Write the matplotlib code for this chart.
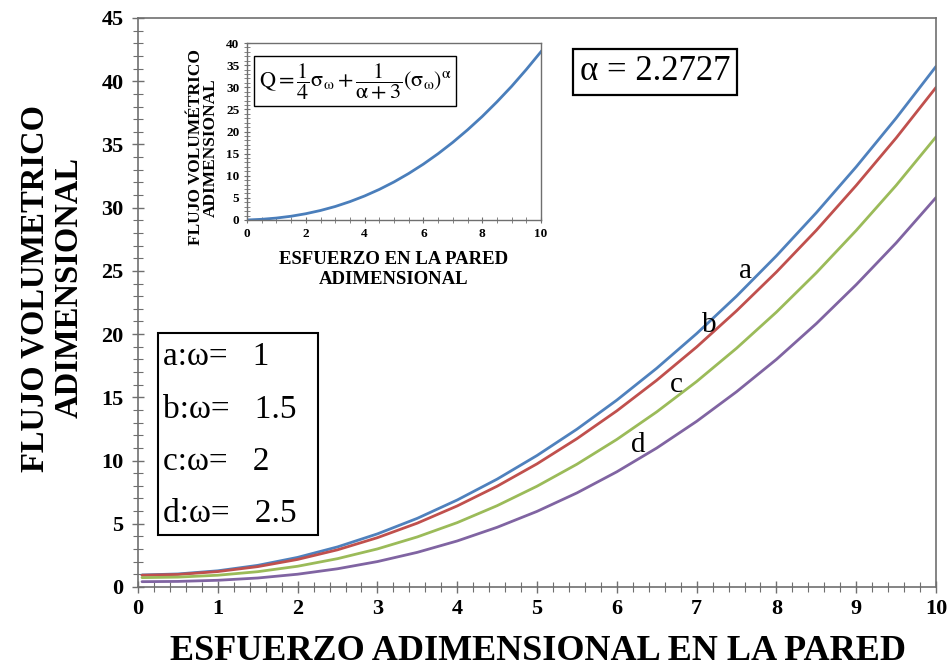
import matplotlib
matplotlib.use("Agg")
import matplotlib.pyplot as plt
from matplotlib.patches import Rectangle
from matplotlib.ticker import MultipleLocator

plt.rcParams['font.family'] = ['Liberation Serif', 'DejaVu Serif']
plt.rcParams['mathtext.fontset'] = 'stix'

# Dimensionless wall stress
sigma = [0.05, 0.5, 1.0, 1.5, 2.0, 2.5, 3.0, 3.5, 4.0, 4.5, 5.0,
         5.5, 6.0, 6.5, 7.0, 7.5, 8.0, 8.5, 9.0, 9.5, 10.0]

# Dimensionless volumetric flow for each slip parameter omega
q_a = [0.95, 1.03, 1.28, 1.71, 2.34, 3.17, 4.20, 5.43, 6.88, 8.53, 10.40,
       12.48, 14.78, 17.30, 20.04, 23.00, 26.19, 29.60, 33.23, 37.08, 41.17]
q_b = [0.93, 0.99, 1.22, 1.61, 2.18, 2.94, 3.90, 5.05, 6.41, 7.97, 9.74,
       11.73, 13.93, 16.35, 18.98, 21.84, 24.91, 28.21, 31.76, 35.51, 39.51]
q_c = [0.74, 0.78, 0.93, 1.21, 1.64, 2.24, 3.01, 3.96, 5.09, 6.43, 7.97,
       9.71, 11.67, 13.85, 16.25, 18.88, 21.74, 24.85, 28.20, 31.76, 35.60]
q_d = [0.42, 0.44, 0.53, 0.71, 1.01, 1.44, 2.01, 2.74, 3.64, 4.72, 5.98,
       7.44, 9.11, 10.99, 13.10, 15.44, 18.00, 20.83, 23.91, 27.21, 30.80]

curve_names = ['a', 'b', 'c', 'd']
omega_values = ['1', '1.5', '2', '2.5']
colors = ['#4F81BD', '#C0504D', '#9BBB59', '#8064A2']

# Inset: base flow curve
sigma_in = [0, 0.5, 1, 1.5, 2, 2.5, 3, 3.5, 4, 4.5, 5,
            5.5, 6, 6.5, 7, 7.5, 8, 8.5, 9, 9.5, 10]
q_in = [0.0, 0.16, 0.44, 0.85, 1.42, 2.15, 3.05, 4.15, 5.43, 6.91, 8.60,
        10.51, 12.63, 14.98, 17.55, 20.36, 23.39, 26.69, 30.20, 34.01, 38.04]

alpha_text = 'α = 2.2727'

spine_col = '#6f6f6f'

fig = plt.figure(figsize=(9.5, 6.69), dpi=100)
ax = fig.add_axes([0.1453, 0.1226, 0.8400, 0.8505])

for q, c in zip([q_a, q_b, q_c, q_d], colors):
    ax.plot(sigma, q, color=c, lw=2.0, solid_capstyle='round')

ax.set_xlim(0, 10)
ax.set_ylim(0, 45)
ax.xaxis.set_major_locator(MultipleLocator(1))
ax.xaxis.set_minor_locator(MultipleLocator(0.2))
ax.yaxis.set_major_locator(MultipleLocator(5))
ax.yaxis.set_minor_locator(MultipleLocator(1))
ax.tick_params(which='both', direction='inout', colors=spine_col,
               labelcolor='black', top=False, right=False)
ax.tick_params(which='major', length=9, width=1)
ax.tick_params(which='minor', length=7, width=0.8)
ax.tick_params(axis='x', pad=4)
ax.tick_params(axis='y', pad=6)
for lab in ax.get_xticklabels() + ax.get_yticklabels():
    lab.set_fontsize(16)
    lab.set_fontweight('bold')
for s in ax.spines.values():
    s.set_color(spine_col)
    s.set_linewidth(1.2)

fig.text(538 / 950, 1 - 651 / 669, 'ESFUERZO ADIMENSIONAL EN LA PARED',
         ha='center', va='center', fontsize=26, fontweight='bold')
fig.text(52 / 950, 1 - 288 / 669, 'FLUJO VOLUMETRICO\nADIMENSIONAL',
         ha='center', va='center', rotation=90, fontsize=23.5,
         fontweight='bold', multialignment='center', linespacing=1.1)

# Curve tags
tag_pos = [(7.61, 24.96), (7.16, 20.7), (6.74, 16.0), (6.27, 11.25)]
for name, (tx, ty) in zip(curve_names, tag_pos):
    ax.text(tx, ty, name, fontsize=21, ha='center', va='center')

# Omega legend box
ax.add_patch(Rectangle((158 / 950, 1 - 535 / 669), (318 - 158) / 950,
                       (535 - 333) / 669, transform=fig.transFigure,
                       fill=False, edgecolor='black', lw=1.5))
for i, (name, w) in enumerate(zip(curve_names, omega_values)):
    fig.text(163 / 950, 1 - (357 + 52.3 * i) / 669,
             f'{name}:\u03c9=   {w}', fontsize=24, ha='left', va='center')

# Alpha box
fig.text(655 / 950, 1 - 72 / 669, alpha_text, fontsize=25,
         ha='center', va='center',
         bbox=dict(boxstyle='square,pad=0.2', fc='white', ec='black', lw=1.6))

# Inset plot
axi = fig.add_axes([247 / 950, 1 - 220 / 669, (541 - 247) / 950, (220 - 43) / 669])
axi.plot(sigma_in, q_in, color='#4A7EBB', lw=2.0)
axi.set_xlim(0, 10)
axi.set_ylim(0, 40)
axi.xaxis.set_major_locator(MultipleLocator(2))
axi.xaxis.set_minor_locator(MultipleLocator(0.5))
axi.yaxis.set_major_locator(MultipleLocator(5))
axi.yaxis.set_minor_locator(MultipleLocator(1))
axi.tick_params(which='both', direction='inout', colors=spine_col,
                labelcolor='black', top=False, right=False, pad=3)
axi.tick_params(which='major', length=5, width=0.8)
axi.tick_params(which='minor', length=4, width=0.6)
for lab in axi.get_xticklabels() + axi.get_yticklabels():
    lab.set_fontsize(9.5)
    lab.set_fontweight('bold')
for s in axi.spines.values():
    s.set_color(spine_col)
    s.set_linewidth(1.0)
axi.set_xlabel('ESFUERZO EN LA PARED\nADIMENSIONAL', fontsize=13.5,
               fontweight='bold', linespacing=1.25, labelpad=8)
axi.set_ylabel('FLUJO VOLUMÉTRICO\nADIMENSIONAL', fontsize=12.5,
               fontweight='bold', linespacing=0.95)
axi.yaxis.set_label_coords(-0.095, 0.41)
axi.text(0.04, 0.785,
         r'$\mathrm{Q}=\dfrac{1}{4}\mathrm{\sigma}_{\mathrm{\omega}}+\dfrac{1}{\mathrm{\alpha}+3}\left(\mathrm{\sigma}_{\mathrm{\omega}}\right)^{\mathrm{\alpha}}$',
         transform=axi.transAxes, fontsize=16, ha='left', va='center',
         bbox=dict(boxstyle='square,pad=0.2', fc='white', ec='black', lw=1.0))

fig.savefig('out.png', dpi=100)
